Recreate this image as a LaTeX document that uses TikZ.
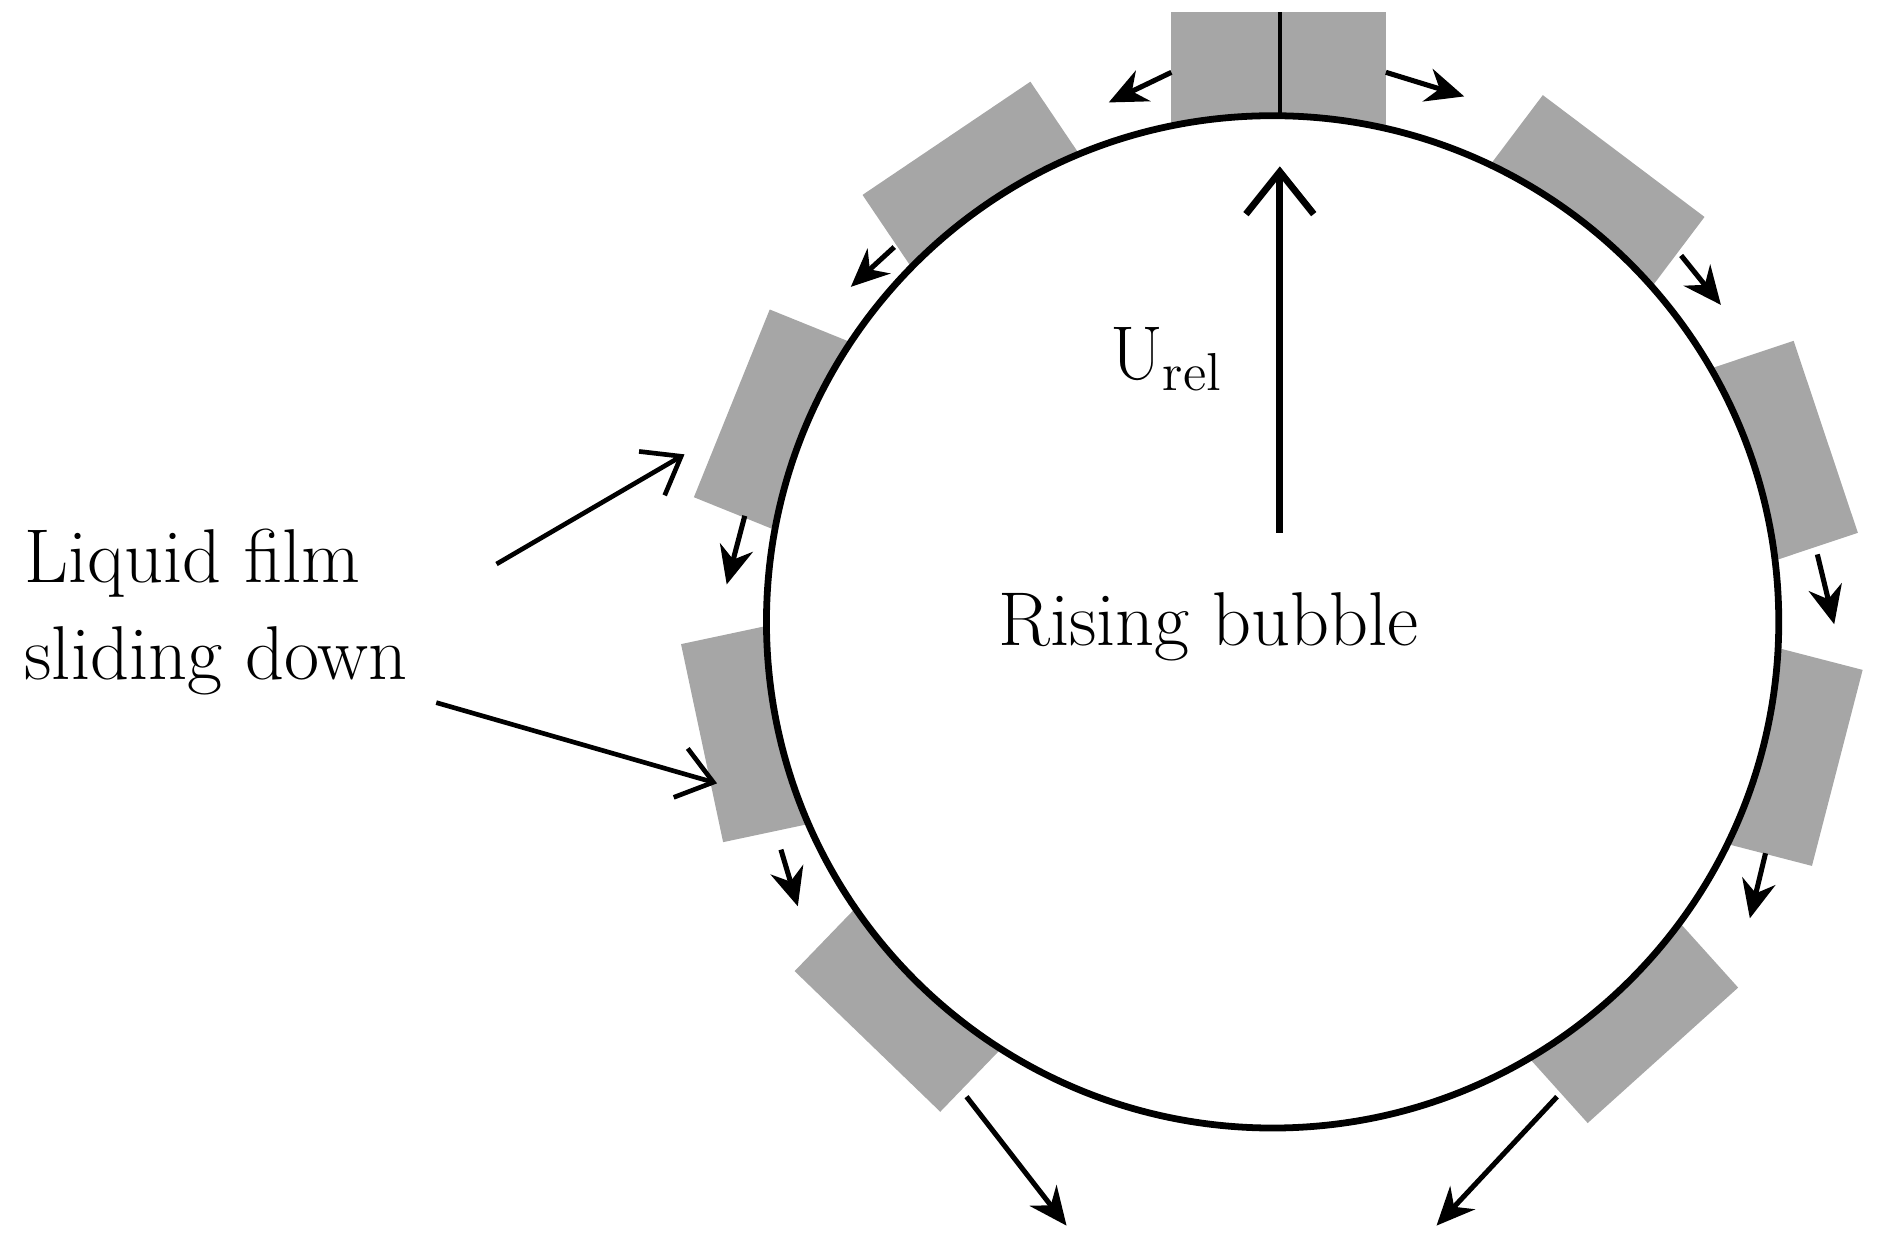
\documentclass[tikz,border=0pt]{standalone}
\usetikzlibrary{arrows.meta}
\begin{document}
\begin{tikzpicture}[x=0.01cm,y=-0.01cm,
  film/.style={fill=black!35,draw=none},
  flow/.style={-{Stealth[length=9pt,width=8pt]},line width=1.2pt},
  lead/.style={-{Straight Barb[length=8pt,width=12pt]},line width=1.1pt},
  txt/.style={font=\fontsize{18}{23}\selectfont}]
\useasboundingbox (0,0) rectangle (1560,1041);
\coordinate (C) at (1056,516);
% films
\foreach \a in {124,158,192,226,53,18.5,-14.5,-48}{
  \begin{scope}[shift={(C)},x=0.01cm,y=0.01cm,rotate=\a-90]
    \fill[film] (-84,400) rectangle (84,484);
  \end{scope}}
\fill[film] (972,10) rectangle (1150,130);
% bubble
\draw[line width=1.6pt,fill=white] (C) circle[radius=420];
\coordinate (T) at (1062,96);
\coordinate (T0) at (1062,10);
\draw[line width=0.9pt] (T0) -- (T);
% small flow arrows
\foreach \p/\q in {{972,60}/{920,85},{1150,60}/{1215,80},{742,205}/{706,238},{1395,212}/{1428,253},{618,428}/{603,485},{1508,460}/{1522,518},{648,705}/{662,752},{1465,708}/{1452,762},{802,910}/{885,1017},{1292,910}/{1192,1017}}
  \draw[flow] (\p) -- (\q);
% relative velocity
\coordinate (U0) at (1062,442);
\coordinate (U1) at (1062,138);
\draw[line width=1.6pt,-{Straight Barb[length=10pt,width=16pt,line width=1.6pt]}] (U0) -- (U1);
\node[txt] (urel) at (968,298) {U\textsubscript{rel}};
\node[txt] (rb) at (1003,520) {Rising bubble};
\node[txt,align=left,anchor=west] (lf) at (8,508) {Liquid film\\sliding down};
\coordinate (a1) at (412,468); \coordinate (b1) at (568,377);
\coordinate (a2) at (362,583); \coordinate (b2) at (595,650);
\draw[lead] (a1) -- (b1);
\draw[lead] (a2) -- (b2);
\end{tikzpicture}
\end{document}
